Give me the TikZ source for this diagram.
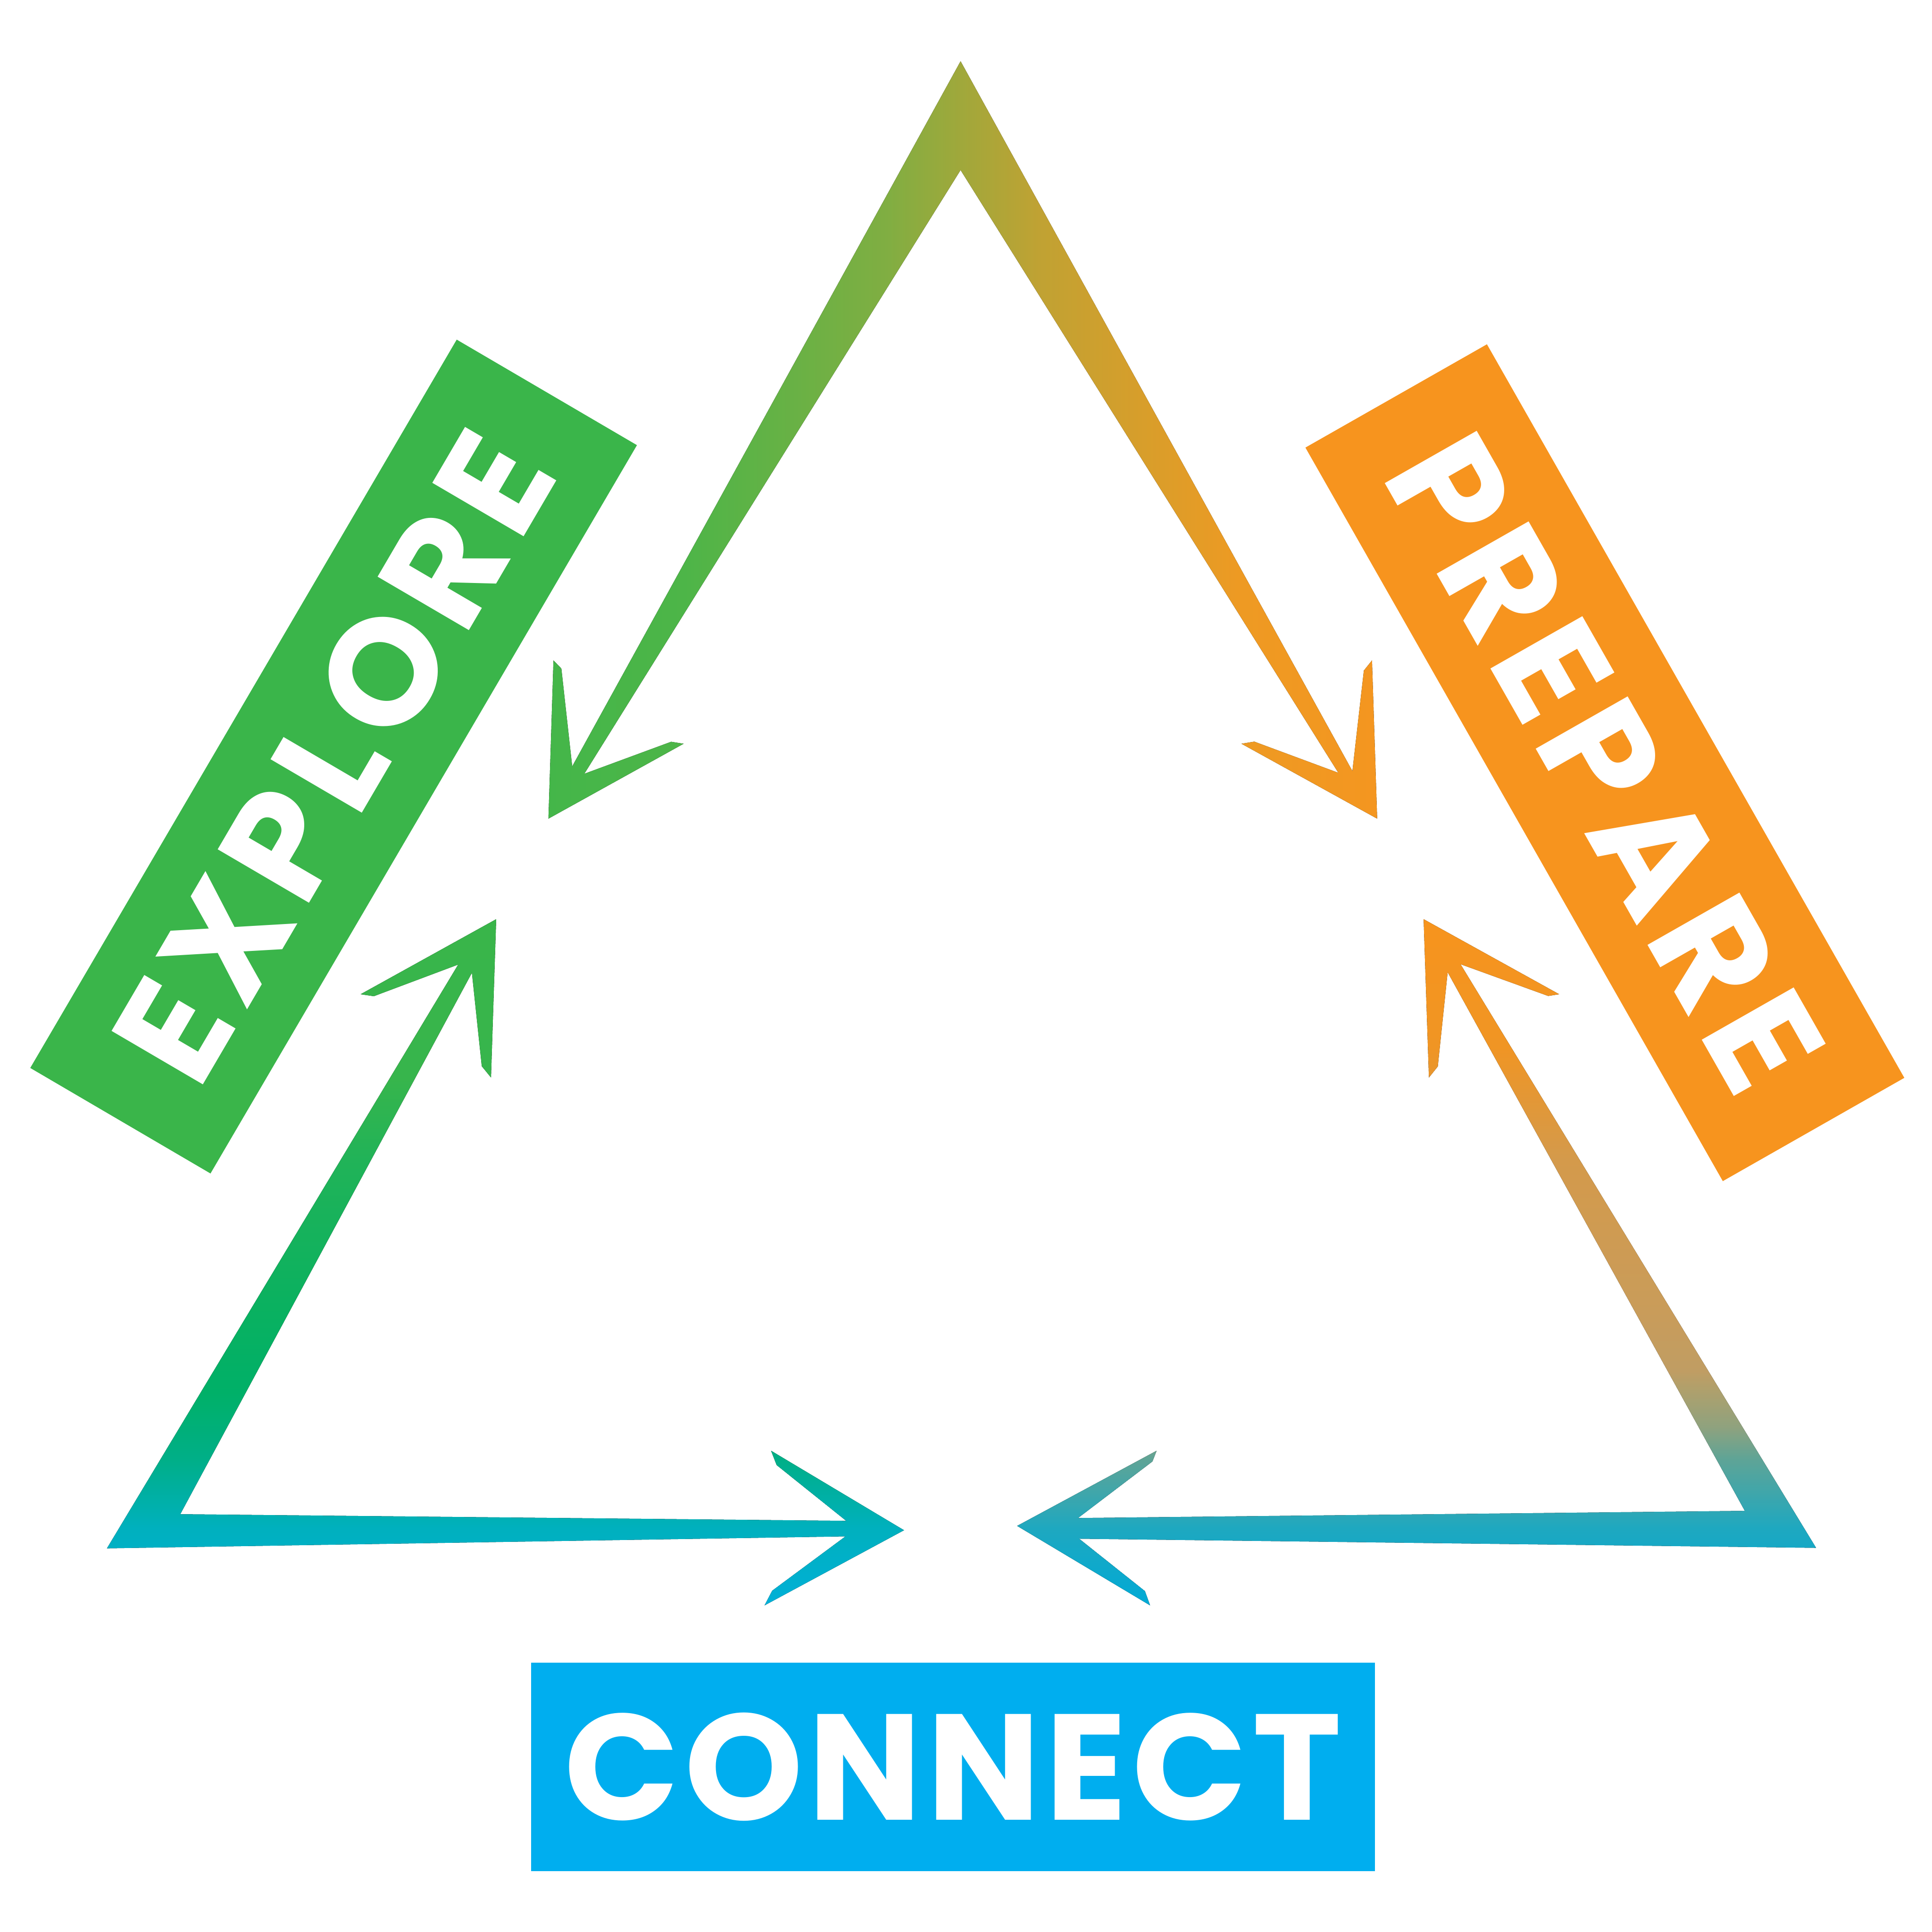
\documentclass[tikz,border=0pt]{standalone}
\usepackage{fontspec}
\newfontfamily\labelfont{Poppins}[LetterSpace=7]
\newfontfamily\connectfont{Poppins}[LetterSpace=3.5]

\definecolor{explorebg}{HTML}{3AB54A}
\definecolor{preparebg}{HTML}{F7941E}
\definecolor{connectbg}{HTML}{00AEEF}

\definecolor{tb1}{HTML}{44B649}
\definecolor{tb2}{HTML}{4DB548}
\definecolor{tb3}{HTML}{80AE42}
\definecolor{tb4}{HTML}{A0A83B}
\definecolor{tb5}{HTML}{C0A233}
\definecolor{tb6}{HTML}{EE9A23}
\definecolor{tb7}{HTML}{F49620}

\definecolor{lb1}{HTML}{00B0D8}
\definecolor{lb2}{HTML}{00B0BE}
\definecolor{lb3}{HTML}{00AF88}
\definecolor{lb4}{HTML}{00B068}
\definecolor{lb5}{HTML}{0AB160}
\definecolor{lb6}{HTML}{21B358}
\definecolor{lb7}{HTML}{37B54C}
\definecolor{lb8}{HTML}{39B54A}

\definecolor{rb1}{HTML}{00AAD6}
\definecolor{rb2}{HTML}{1EA8C0}
\definecolor{rb3}{HTML}{5FA496}
\definecolor{rb4}{HTML}{8FA27E}
\definecolor{rb5}{HTML}{AFA06C}
\definecolor{rb6}{HTML}{C09D63}
\definecolor{rb7}{HTML}{C99C5A}
\definecolor{rb8}{HTML}{D49A4B}
\definecolor{rb9}{HTML}{F09524}
\definecolor{rb10}{HTML}{F7941D}

\pgfdeclarehorizontalshading{topband}{100bp}{color(0bp)=(tb1); color(25bp)=(tb1);
  color(33.2bp)=(tb2); color(45.4bp)=(tb3); color(49.9bp)=(tb4); color(54.6bp)=(tb5);
  color(66.8bp)=(tb6); color(75bp)=(tb7); color(100bp)=(tb7)}
\pgfdeclareverticalshading{leftband}{100bp}{color(0bp)=(lb1); color(25bp)=(lb1);
  color(30.6bp)=(lb2); color(35.6bp)=(lb3); color(40.5bp)=(lb4); color(46.8bp)=(lb5);
  color(57.5bp)=(lb6); color(63.4bp)=(lb7); color(75bp)=(lb8); color(100bp)=(lb8)}
\pgfdeclareverticalshading{rightband}{100bp}{color(0bp)=(rb1); color(25bp)=(rb1);
  color(30.6bp)=(rb2); color(35.7bp)=(rb3); color(38bp)=(rb4); color(40.7bp)=(rb5);
  color(42.1bp)=(rb6); color(46.4bp)=(rb7); color(57.5bp)=(rb8); color(65.7bp)=(rb9);
  color(75bp)=(rb10); color(100bp)=(rb10)}

\tikzset{
  labelbox/.style={minimum width=68.5mm, minimum height=16.95mm, inner sep=0pt,
    text=white, font=\labelfont\bfseries\fontsize{34.8}{40}\selectfont}
}

\begin{document}
\begin{tikzpicture}[x=0.1mm, y=-0.1mm]
    \useasboundingbox (0,0) rectangle (1568,1568);
    % Pfeil oben: Explore -> Prepare
    \fill[shading=topband] (445.1,664.4) -- (449.2,536.0) -- (455.6,542.6) -- (464.4,622.0)
        -- (779.6,49.7) -- (1097.6,625.8) -- (1106.9,544.2) -- (1113.5,536.0) -- (1117.7,664.4)
        -- (1007.6,603.6) -- (1018.0,601.9) -- (1086.2,627.2) -- (779.6,138.0) -- (474.2,628.0)
        -- (544.7,602.0) -- (554.8,603.6) -- cycle;
    % Pfeil links
    \fill[shading=leftband] (402.7,746.0) -- (398.5,874.5) -- (391.0,865.3) -- (383.0,789.5)
        -- (146.3,1228.9) -- (686.8,1234.3) -- (630.3,1189.0) -- (625.8,1177.4) -- (733.7,1241.9)
        -- (620.5,1302.9) -- (626.7,1291.0) -- (686.2,1246.9) -- (86.8,1256.6) -- (371.9,782.8)
        -- (303.4,808.5) -- (292.7,806.9) -- cycle;
    % Pfeil rechts
    \fill[shading=rightband] (1155.4,746.0) -- (1265.4,806.9) -- (1256.5,808.3) -- (1185.3,782.5)
        -- (1473.9,1256.2) -- (875.8,1248.8) -- (929.2,1291.3) -- (933.4,1302.9) -- (825.5,1238.4)
        -- (938.7,1177.4) -- (935.3,1186.1) -- (874.9,1232.0) -- (1416.1,1226.2) -- (1174.9,789.0)
        -- (1166.9,865.5) -- (1159.7,874.5) -- cycle;

    \node[labelbox, fill=explorebg, rotate=59.65] (explore) at (270.75,614) {EXPLORE};
    \node[labelbox, fill=preparebg, rotate=-60.36] (prepare) at (1302.5,619) {PREPARE};
    \node[labelbox, fill=connectbg, font=\connectfont\bfseries\fontsize{34.8}{40}\selectfont]
        (connect) at (773.4,1434) {CONNECT};
\end{tikzpicture}
\end{document}
